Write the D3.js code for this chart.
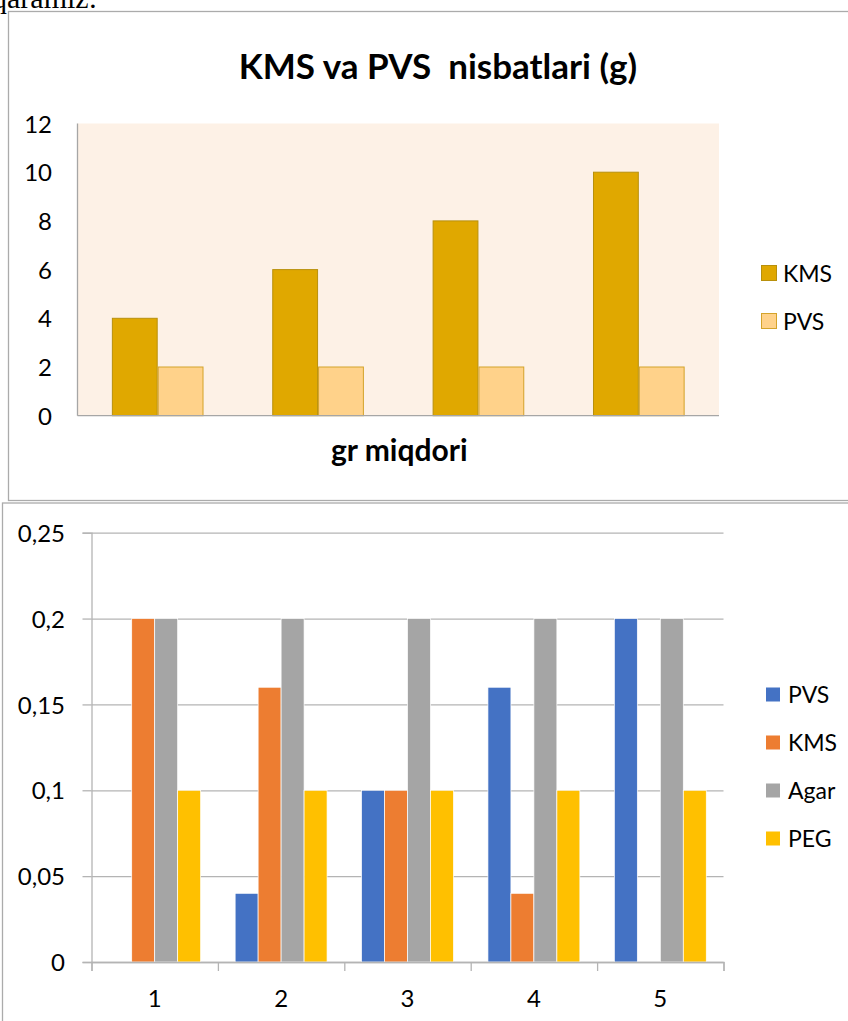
<!DOCTYPE html>
<html>
<head>
<meta charset="utf-8">
<script src="https://cdn.jsdelivr.net/npm/d3@7/dist/d3.min.js"></script>
<style>
html,body{margin:0;padding:0;background:#fff;}
svg{display:block;}
text{font-family:Lato,"Open Sans",sans-serif;fill:#000;}
</style>
</head>
<body>
<svg id="c" width="848" height="1021"></svg>
<script>
// ---------- Data: top chart ----------
const topTitle = "KMS va PVS  nisbatlari (g)";
const topXTitle = "gr miqdori";
const topCategories = ["1", "2", "3", "4"];
const topSeriesNames = ["KMS", "PVS"];
const topKMS = [4, 6, 8, 10];
const topPVS = [2, 2, 2, 2];
const topTicks = [0, 2, 4, 6, 8, 10, 12];

// ---------- Data: bottom chart ----------
const botCategories = ["1", "2", "3", "4", "5"];
const botSeriesNames = ["PVS", "KMS", "Agar", "PEG"];
const botPVS = [0, 0.04, 0.1, 0.16, 0.2];
const botKMS = [0.2, 0.16, 0.1, 0.04, 0];
const botAgar = [0.2, 0.2, 0.2, 0.2, 0.2];
const botPEG = [0.1, 0.1, 0.1, 0.1, 0.1];
const botTicks = [0, 0.05, 0.1, 0.15, 0.2, 0.25];
const botTickLabels = ["0", "0,05", "0,1", "0,15", "0,2", "0,25"];

const svg = d3.select("#c");

// fragment of preceding document text (cut off at top, as in the source page)
svg.append("text").attr("x", 97).attr("y", 8).attr("text-anchor", "end")
  .style("font-family", "'Liberation Serif',serif").style("font-size", "30px")
  .text("qaramiz:");

// ================= TOP CHART =================
svg.append("rect").attr("x", 8.5).attr("y", 11.5).attr("width", 900).attr("height", 489)
  .attr("fill", "#fff").attr("stroke", "#ababab").attr("stroke-width", 1.3);

const tp = {left: 77.5, right: 719, top: 123.5, bottom: 415.7};
const tx = d3.scaleBand().domain(topCategories).range([tp.left, tp.right]);
const ty = d3.scaleLinear().domain([0, 12]).range([tp.bottom, tp.top]);
const tw = tx.bandwidth() / 3.5;
const tInner = d3.scaleBand().domain(topSeriesNames).range([0, 2 * tw]);
const topColors = {KMS: "#E0A800", PVS: "#FFD28A"};
const topStroke = {KMS: "#B8900C", PVS: "#D4A32A"};

svg.append("rect").attr("x", tp.left).attr("y", tp.top)
  .attr("width", tp.right - tp.left).attr("height", tp.bottom - tp.top)
  .attr("fill", "#FDF1E6");

const topData = topCategories.map((c, i) => ({c, KMS: topKMS[i], PVS: topPVS[i]}));
const tg = svg.append("g");
topData.forEach(d => {
  const x0 = tx(d.c) + (tx.bandwidth() - 2 * tw) / 2;
  topSeriesNames.forEach(s => {
    tg.append("rect")
      .attr("x", x0 + tInner(s) + 0.5)
      .attr("y", ty(d[s]))
      .attr("width", tInner.bandwidth() - 1)
      .attr("height", ty(0) - ty(d[s]))
      .attr("fill", topColors[s]).attr("stroke", topStroke[s]).attr("stroke-width", 1);
  });
});

// axes lines
svg.append("line").attr("x1", tp.left).attr("x2", tp.left).attr("y1", tp.top).attr("y2", tp.bottom)
  .attr("stroke", "#a6a6a6").attr("stroke-width", 1.3);
svg.append("line").attr("x1", tp.left).attr("x2", tp.right).attr("y1", tp.bottom).attr("y2", tp.bottom)
  .attr("stroke", "#a6a6a6").attr("stroke-width", 1.3);

// y labels
const tyAxis = d3.axisLeft(ty).tickValues(topTicks).tickSize(0).tickPadding(0).tickFormat(d3.format("d"));
const tya = svg.append("g").attr("transform", `translate(52,0)`).call(tyAxis);
tya.select(".domain").remove();
tya.selectAll("text").style("font-size", "24px").style("font-family", "Lato").attr("fill", "#000")
  .attr("dy", "0.36em");

// title
svg.append("text").attr("x", 438).attr("y", 79).attr("text-anchor", "middle")
  .style("font-size", "35px").style("font-weight", "bold").style("white-space", "pre")
  .text(topTitle);
svg.append("text").attr("x", (tp.left + tp.right) / 2 + 1).attr("y", 461).attr("text-anchor", "middle")
  .style("font-size", "30px").style("font-weight", "bold")
  .text(topXTitle);

// top legend
const tl = svg.append("g");
topSeriesNames.forEach((s, i) => {
  const cy = 273 + i * 48;
  tl.append("rect").attr("x", 761.5).attr("y", cy - 7.5).attr("width", 15).attr("height", 15)
    .attr("fill", topColors[s]).attr("stroke", topStroke[s]).attr("stroke-width", 1);
  tl.append("text").attr("x", 783).attr("y", cy + 8.5).style("font-size", "23px").text(s);
});

// ================= BOTTOM CHART =================
svg.append("rect").attr("x", 2.5).attr("y", 503).attr("width", 900).attr("height", 600)
  .attr("fill", "#fff").attr("stroke", "#ababab").attr("stroke-width", 1.3);

const bp = {left: 91.5, right: 723.5, top: 532.7, bottom: 962};
const bx = d3.scaleBand().domain(botCategories).range([bp.left, bp.right]);
const by = d3.scaleLinear().domain([0, 0.25]).range([bp.bottom, bp.top]);
const bw = bx.bandwidth() / 5.5;
const bInner = d3.scaleBand().domain(botSeriesNames).range([0, 4 * bw]);
const botColors = {PVS: "#4472C4", KMS: "#ED7D31", Agar: "#A5A5A5", PEG: "#FFC000"};
const gridColor = "#b4b4b4";

// gridlines
const bGrid = d3.axisLeft(by).tickValues(botTicks).tickSize(-(bp.right - bp.left)).tickFormat("");
const bg = svg.append("g").attr("transform", `translate(${bp.left},0)`).call(bGrid);
bg.select(".domain").remove();
bg.selectAll("line").attr("stroke", gridColor).attr("stroke-width", 1.3);

// left ticks (outside)
const bTicksL = d3.axisLeft(by).tickValues(botTicks).tickSize(9).tickFormat("");
const btl = svg.append("g").attr("transform", `translate(${bp.left},0)`).call(bTicksL);
btl.select(".domain").attr("stroke", gridColor).attr("stroke-width", 1.3);
btl.selectAll("line").attr("stroke", gridColor).attr("stroke-width", 1.3);

// y labels
const byAxis = d3.axisLeft(by).tickValues(botTicks).tickSize(0).tickPadding(0)
  .tickFormat((d, i) => botTickLabels[i]);
const bya = svg.append("g").attr("transform", `translate(65,0)`).call(byAxis);
bya.select(".domain").remove();
bya.selectAll("text").style("font-size", "24px").style("font-family", "Lato").attr("fill", "#000")
  .attr("dy", "0.36em");

// bars
const botData = botCategories.map((c, i) => ({c, PVS: botPVS[i], KMS: botKMS[i], Agar: botAgar[i], PEG: botPEG[i]}));
const bb = svg.append("g");
botData.forEach(d => {
  const x0 = bx(d.c) + (bx.bandwidth() - 4 * bw) / 2;
  botSeriesNames.forEach(s => {
    if (d[s] <= 0) return;
    bb.append("rect")
      .attr("x", x0 + bInner(s))
      .attr("y", by(d[s]))
      .attr("width", bInner.bandwidth())
      .attr("height", by(0) - by(d[s]))
      .attr("fill", botColors[s]).attr("stroke", "#fff").attr("stroke-width", 0.7);
  });
});

// x axis with ticks at band boundaries
const bxBound = d3.scaleLinear().domain([0, botCategories.length]).range([bp.left, bp.right]);
const bxTicks = d3.axisBottom(bxBound).ticks(botCategories.length).tickSize(9).tickFormat("");
const bxa = svg.append("g").attr("transform", `translate(0,${bp.bottom})`).call(bxTicks);
bxa.select(".domain").attr("stroke", gridColor).attr("stroke-width", 1.3);
bxa.selectAll("line").attr("stroke", gridColor).attr("stroke-width", 1.3);

// x labels
const bxLab = d3.axisBottom(bx).tickSize(0).tickPadding(0);
const bxl = svg.append("g").attr("transform", `translate(0,1006.5)`).call(bxLab);
bxl.select(".domain").remove();
bxl.selectAll("text").style("font-size", "24px").style("font-family", "Lato").attr("fill", "#000")
  .attr("dy", "0");

// bottom legend
const bl = svg.append("g");
botSeriesNames.forEach((s, i) => {
  const cy = 694.5 + i * 48;
  bl.append("rect").attr("x", 766).attr("y", cy - 7).attr("width", 14).attr("height", 14)
    .attr("fill", botColors[s]);
  bl.append("text").attr("x", 788).attr("y", cy + 8.5).style("font-size", "23px").text(s);
});
</script>
</body>
</html>
